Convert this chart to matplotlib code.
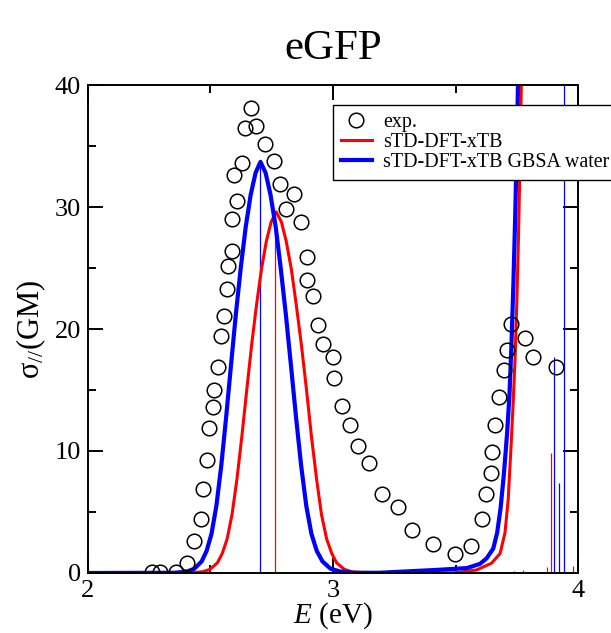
import matplotlib
matplotlib.use("Agg")
import matplotlib.pyplot as plt
from matplotlib.lines import Line2D

plt.rcParams['font.family'] = 'Liberation Serif'
plt.rcParams['mathtext.fontset'] = 'custom'
plt.rcParams['mathtext.rm'] = 'Liberation Serif'
plt.rcParams['mathtext.it'] = 'Liberation Serif:italic'

# measured two-photon cross sections
exp_E = [2.260, 2.294, 2.359, 2.405, 2.433, 2.460, 2.471, 2.487, 2.494, 2.509,
         2.514, 2.529, 2.541, 2.557, 2.569, 2.573, 2.588, 2.589, 2.596, 2.607,
         2.627, 2.641, 2.665, 2.686, 2.724, 2.759, 2.784, 2.807, 2.841, 2.868,
         2.893, 2.895, 2.920, 2.938, 2.958, 2.999, 3.005, 3.037, 3.068, 3.101,
         3.148, 3.199, 3.265, 3.322, 3.407, 3.499, 3.562, 3.609, 3.624, 3.644,
         3.650, 3.661, 3.679, 3.698, 3.709, 3.725, 3.784, 3.818, 3.910]
exp_sigma = [0.1, 0.1, 0.1, 0.85, 2.6, 4.4, 6.9, 9.3, 11.9, 13.6,
             15.0, 16.9, 19.4, 21.1, 23.3, 25.2, 26.4, 29.0, 32.6, 30.5,
             33.6, 36.5, 38.1, 36.6, 35.2, 33.8, 31.9, 29.8, 31.1, 28.8,
             25.9, 24.0, 22.7, 20.3, 18.8, 17.7, 16.0, 13.7, 12.1, 10.4,
             9.0, 6.5, 5.4, 3.5, 2.4, 1.56, 2.2, 4.4, 6.5, 8.2,
             9.9, 12.1, 14.4, 16.6, 18.3, 20.4, 19.3, 17.7, 16.9]

# broadened sTD-DFT-xTB spectrum (gas phase)
red_E = [2.00, 2.418, 2.468, 2.498, 2.528, 2.548, 2.568, 2.588, 2.608, 2.628,
         2.648, 2.668, 2.688, 2.708, 2.728, 2.748, 2.768, 2.789, 2.809, 2.830,
         2.850, 2.871, 2.892, 2.912, 2.933, 2.953, 2.974, 2.995, 3.015, 3.046,
         3.077, 3.13, 3.50, 3.586, 3.647, 3.682, 3.702, 3.715, 3.727, 3.735,
         3.743, 3.750, 3.757, 3.763, 3.769, 3.778]
red_sigma = [0.0, 0.02, 0.1, 0.3, 0.83, 1.6, 2.8, 4.8, 7.7, 11.2,
             15.0, 18.7, 22.0, 24.9, 27.2, 28.8, 29.6, 28.8, 27.2, 24.9,
             22.0, 18.7, 15.0, 11.2, 7.7, 4.8, 2.8, 1.6, 0.83, 0.3,
             0.1, 0.02, 0.02, 0.25, 0.8, 1.6, 3.3, 6.0, 10.5, 13.8,
             17.5, 22.0, 27.5, 33.5, 40.5, 52.0]

# broadened sTD-DFT-xTB spectrum with GBSA water
blue_E = [2.00, 2.354, 2.404, 2.434, 2.464, 2.484, 2.504, 2.524, 2.544, 2.564,
          2.584, 2.604, 2.624, 2.644, 2.664, 2.684, 2.704, 2.725, 2.745, 2.766,
          2.786, 2.807, 2.828, 2.849, 2.870, 2.891, 2.912, 2.934, 2.957, 2.99,
          3.03, 3.08, 3.19, 3.42, 3.546, 3.60, 3.627, 3.654, 3.670, 3.684,
          3.697, 3.705, 3.711, 3.720, 3.728, 3.736, 3.744, 3.752, 3.756, 3.765]
blue_sigma = [0.0, 0.02, 0.12, 0.35, 0.95, 1.8, 3.2, 5.5, 8.8, 12.8,
              17.1, 21.3, 25.1, 28.4, 31.0, 32.8, 33.7, 32.8, 31.0, 28.4,
              25.1, 21.3, 17.1, 12.8, 8.8, 5.5, 3.2, 1.8, 0.95, 0.35,
              0.12, 0.02, 0.02, 0.25, 0.4, 0.75, 1.2, 2.0, 3.3, 5.3,
              8.0, 10.0, 11.6, 14.5, 18.5, 23.5, 29.5, 37.0, 41.0, 52.0]

# stick spectra
red_sticks_E = [2.765, 3.777, 3.872, 3.890, 3.981]
red_sticks_h = [29.6, 0.25, 0.5, 9.8, 0.6]
blue_sticks_E = [2.702, 3.739, 3.902, 3.921, 3.944]
blue_sticks_h = [33.7, 0.2, 17.7, 7.4, 60.0]

fig = plt.figure(figsize=(6.11, 6.33), dpi=100)
ax = fig.add_axes([0.144, 0.0948, 0.802, 0.7709])

ax.vlines(red_sticks_E, 0, red_sticks_h, colors='red', lw=0.9)
ax.vlines(blue_sticks_E, 0, blue_sticks_h, colors='blue', lw=0.9)
ax.plot(red_E, red_sigma, color='red', lw=2.2)
ax.plot(blue_E, blue_sigma, color='blue', lw=3.0)
ax.plot(exp_E, exp_sigma, 'o', ms=10.5, mfc='none', mec='black', mew=1.1)

ax.set_xlim(2, 4)
ax.set_ylim(0, 40)
ax.set_xticks([2, 3, 4])
ax.set_xticks([2.5, 3.5], minor=True)
ax.set_yticks([0, 10, 20, 30, 40])
ax.set_yticks([5, 15, 25, 35], minor=True)
ax.tick_params(which='both', direction='in', top=True, right=True, width=1.4,
               labelsize=19, pad=5)
ax.tick_params(which='major', length=11)
ax.tick_params(which='minor', length=6)
for s in ax.spines.values():
    s.set_linewidth(1.4)

ax.set_xlabel(r'$E$ (eV)', fontsize=21, labelpad=-1)
ax.set_ylabel(r'$\mathrm{\sigma}_{//}$(GM)', fontsize=22, labelpad=5)
ax.set_title('eGFP', fontsize=31, pad=19)

handles = [
    Line2D([], [], ls='none', marker='o', ms=10.5, mfc='none', mec='black', mew=1.1),
    Line2D([], [], color='red', lw=2.2),
    Line2D([], [], color='blue', lw=3.0),
]
labels = ['exp.', 'sTD-DFT-xTB', 'sTD-DFT-xTB GBSA water']
leg = ax.legend(handles, labels, loc='upper left', bbox_to_anchor=(0.5, 0.959),
                fontsize=14.4, frameon=True, fancybox=False, framealpha=1,
                edgecolor='black', borderpad=0.4, labelspacing=0.06,
                handlelength=1.55, handletextpad=0.55, borderaxespad=0)
leg.get_frame().set_linewidth(1.0)

fig.savefig('out.png', dpi=100)
